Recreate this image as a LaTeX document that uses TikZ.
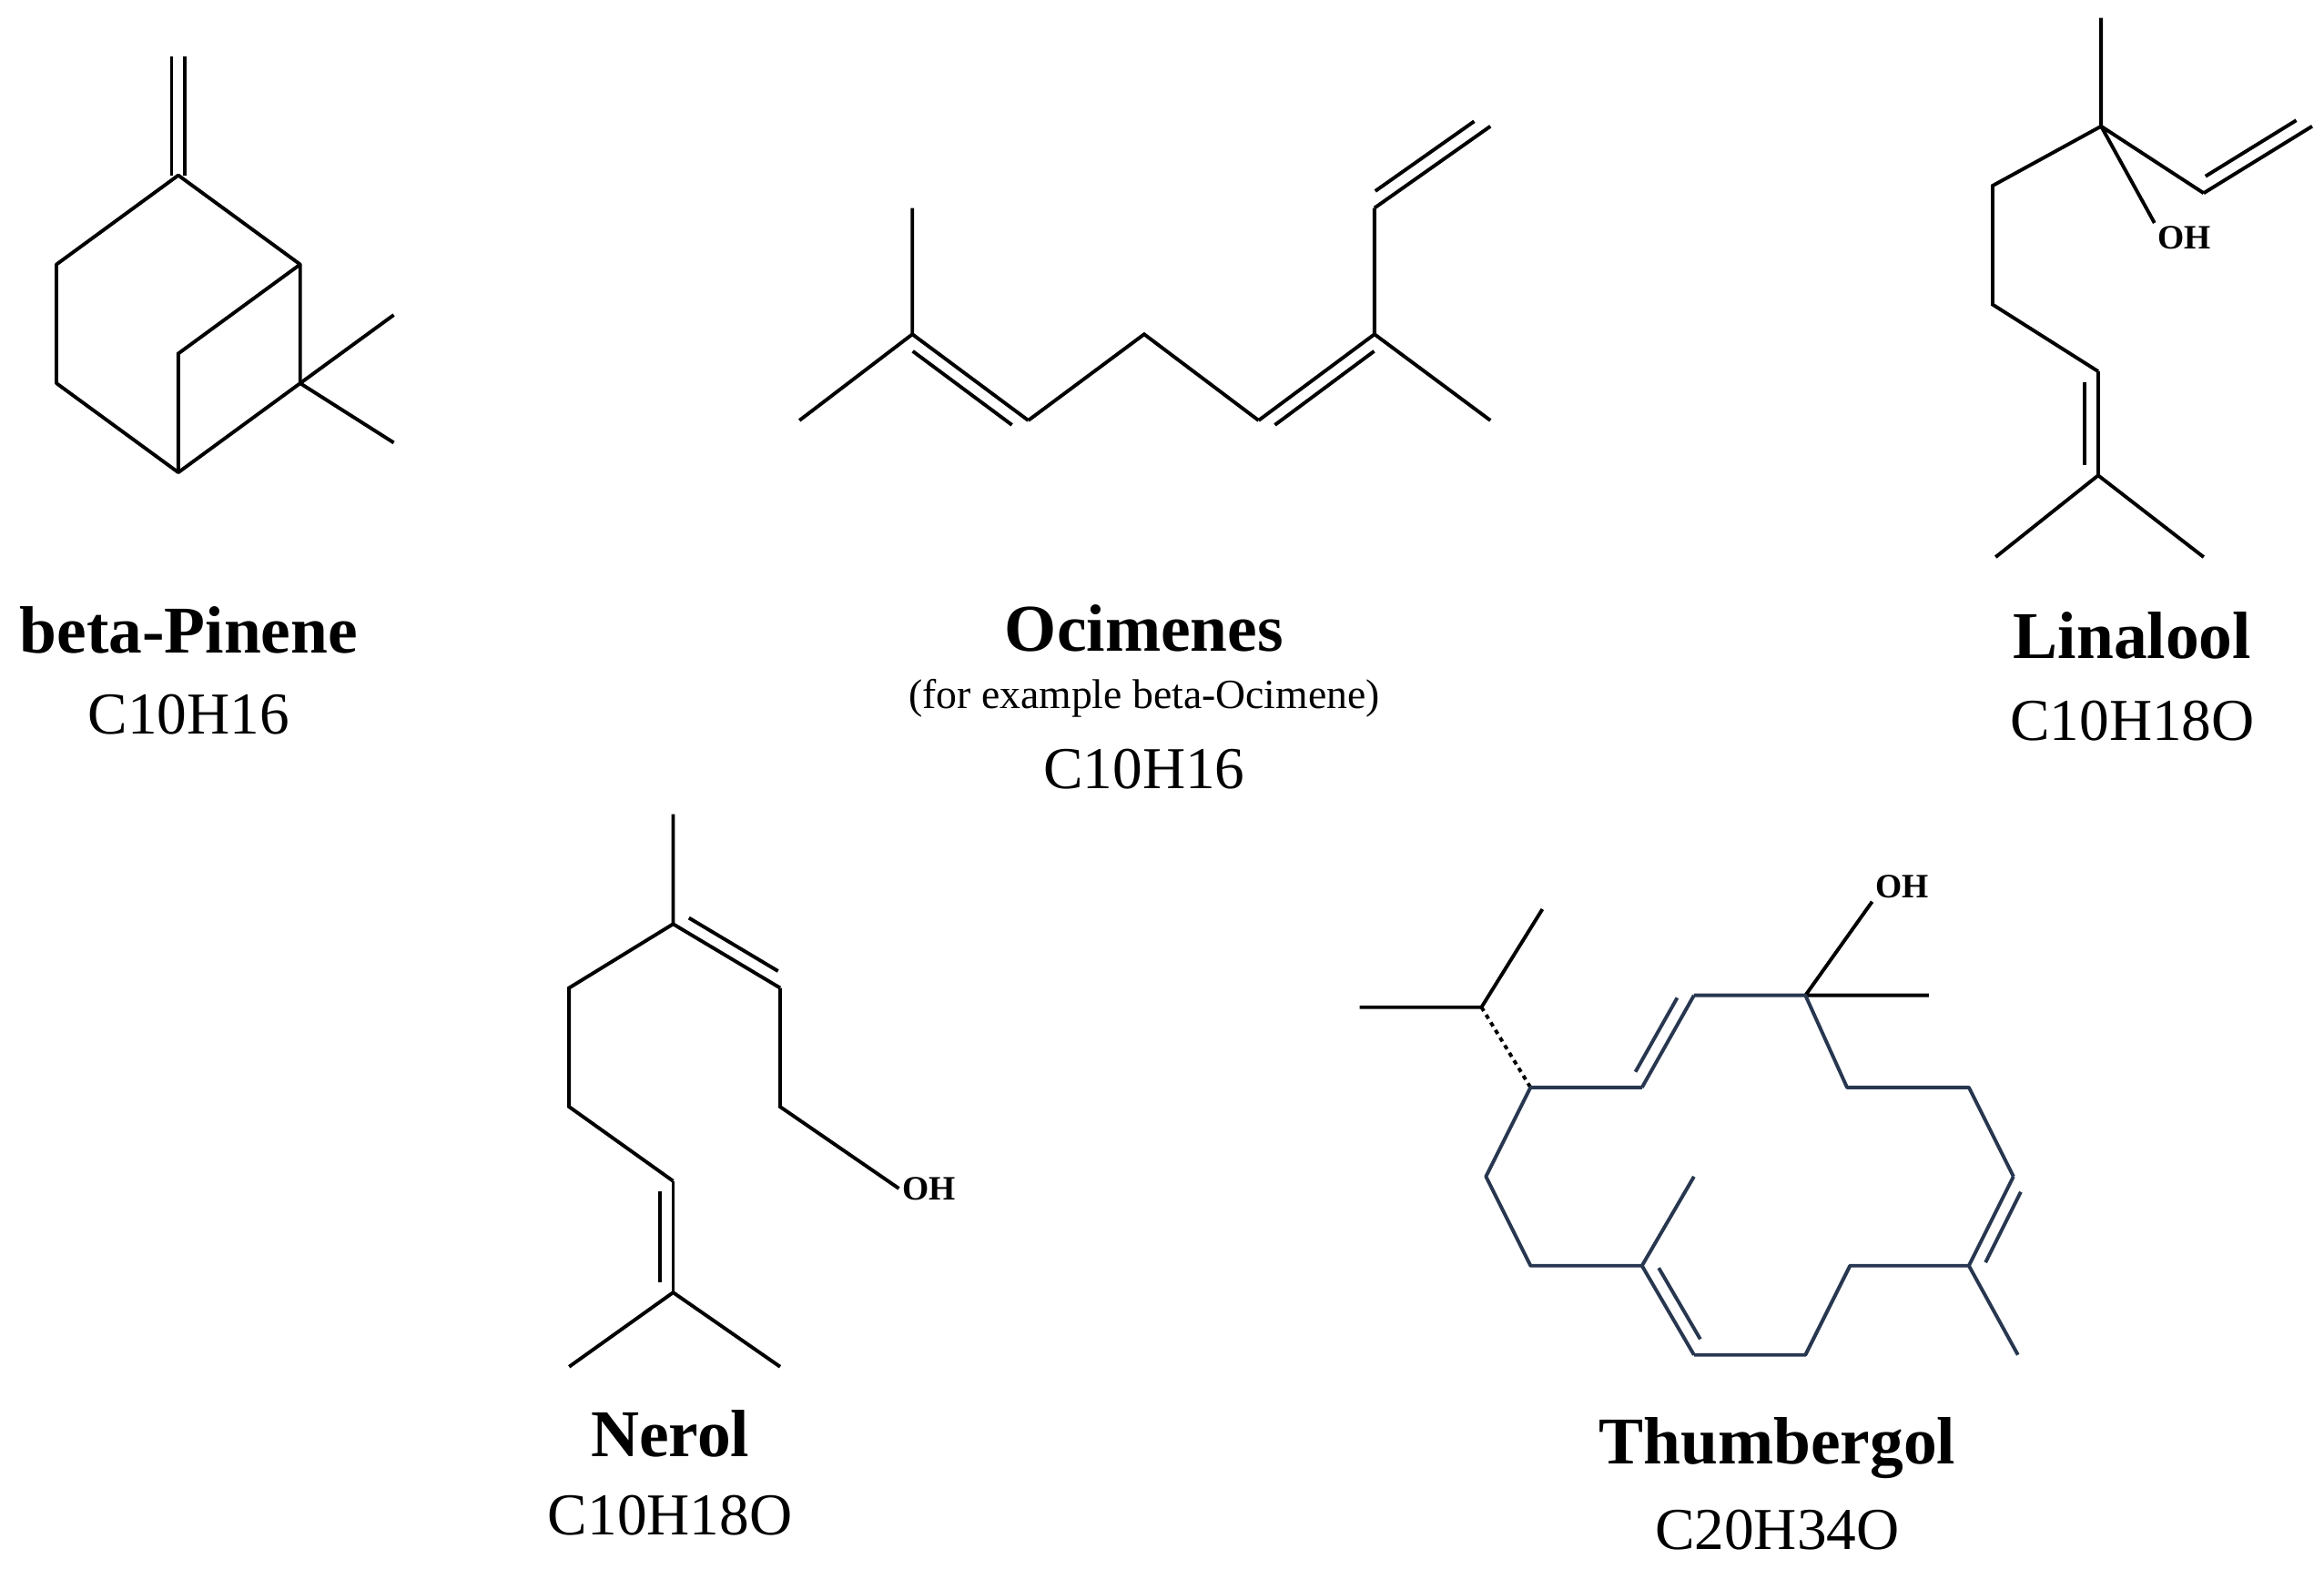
\documentclass[tikz,border=0pt]{standalone}
\usepackage{fontspec}
\setmainfont{Liberation Serif}
\usetikzlibrary{calc}
\newcommand\db[3]{\draw (#1)--(#2); \draw[shorten >=7pt,shorten <=7pt] ($(#1)!9pt!#3:(#2)$) -- ($(#2)!9pt!-#3:(#1)$);}
\begin{document}
\begin{tikzpicture}[x=1pt,y=-1pt,line width=2.4pt,
  nm/.style={font=\fontsize{45}{48}\selectfont\bfseries},
  fm/.style={font=\fontsize{40}{44}\selectfont},
  sm/.style={font=\fontsize{28}{30}\selectfont},
  oh/.style={font=\fontsize{23}{26}\selectfont\bfseries,inner sep=1pt}]
\useasboundingbox (0,0) rectangle (1564,1056);
% beta-pinene
\coordinate (p0) at (120,38); \coordinate (p2) at (120,118); \coordinate (p1) at (202,178);
\coordinate (p6) at (202,258); \coordinate (p5) at (120,318); \coordinate (p4) at (38,258);
\coordinate (p3) at (38,178); \coordinate (p7) at (120,238);
\coordinate (pm1) at (265,212); \coordinate (pm2) at (265,298);
\draw ([xshift=-4.5pt]p0)--([xshift=-4.5pt]p2) ([xshift=4.5pt]p0)--([xshift=4.5pt]p2);
\draw[line join=round] (p2)--(p1)--(p6)--(p5)--(p4)--(p3)--cycle;
\draw (p5)--(p7)--(p1) (p6)--(pm1) (p6)--(pm2);
\node[nm] (n1) at (127,424) {beta-Pinene};
\node[fm] (f1) at (127,481) {C10H16};
% ocimene
\coordinate (o1) at (538,283); \coordinate (o2) at (614,225); \coordinate (o2m) at (614,140);
\coordinate (o3) at (692,283); \coordinate (o4) at (770,225); \coordinate (o5) at (847,283);
\coordinate (o6) at (925,225); \coordinate (o6m) at (1003,283); \coordinate (o7) at (925,140);
\coordinate (o8) at (1003,85);
\draw (o1)--(o2)--(o2m) (o3)--(o4)--(o5) (o6)--(o6m) (o6)--(o7);
\db{o2}{o3}{-90} \db{o5}{o6}{-90} \db{o7}{o8}{90}
\node[nm] (n2) at (770,423) {Ocimenes};
\node[sm] (s2) at (770,470) {(for example beta-Ocimene)};
\node[fm] (f2) at (770,518) {C10H16};
% linalool
\coordinate (l0) at (1414,12); \coordinate (l1) at (1414,85); \coordinate (l2) at (1341,125);
\coordinate (l3) at (1341,205); \coordinate (l4) at (1412,250); \coordinate (l5) at (1412,320);
\coordinate (l6) at (1343,375); \coordinate (l7) at (1483,375);
\coordinate (l8) at (1483,130); \coordinate (l9) at (1556,85);
\node[oh] (loh) at (1470,160) {OH};
\draw (l0)--(l1)--(l2)--(l3)--(l4) (l5)--(l6) (l5)--(l7) (l1)--(l8) (l1)--(loh.north west);
\db{l4}{l5}{-90} \db{l8}{l9}{90}
\node[nm] (n3) at (1435,428) {Linalool};
\node[fm] (f3) at (1435,485) {C10H18O};
% nerol
\coordinate (e0) at (453,548); \coordinate (e1) at (453,622); \coordinate (e2) at (383,665);
\coordinate (e3) at (383,745); \coordinate (e4) at (453,795); \coordinate (e5) at (453,870);
\coordinate (e6) at (383,920); \coordinate (e7) at (525,920);
\coordinate (e8) at (525,665); \coordinate (e9) at (525,745);
\node[oh] (eoh) at (625,800) {OH};
\draw (e0)--(e1)--(e2)--(e3)--(e4) (e5)--(e6) (e5)--(e7) (e8)--(e9)--(eoh.west);
\db{e1}{e8}{90} \db{e4}{e5}{-90}
\node[nm] (n4) at (451,965) {Nerol};
\node[fm] (f4) at (451,1020) {C10H18O};
% thumbergol
\coordinate (t0) at (915,678); \coordinate (t1) at (997,678); \coordinate (t2) at (1038,612);
\coordinate (r1) at (1030,732); \coordinate (r2) at (1105,732); \coordinate (r3) at (1140,670);
\coordinate (r4) at (1215,670); \coordinate (r5) at (1243,732); \coordinate (r6) at (1325,732);
\coordinate (r7) at (1355,792); \coordinate (r8) at (1325,852); \coordinate (r9) at (1245,852);
\coordinate (r10) at (1215,912); \coordinate (r11) at (1140,912); \coordinate (r12) at (1105,852);
\coordinate (r13) at (1030,852); \coordinate (r14) at (1000,792);
\coordinate (m1) at (1358,912); \coordinate (m2) at (1140,792); \coordinate (m3) at (1298,670);
\node[oh] (toh) at (1280,597) {OH};
\draw (t0)--(t1)--(t2) (r4)--(toh.south west) (r4)--(m3);
\draw[dash pattern=on 3pt off 3pt] (t1)--(r1);
\begin{scope}[draw={rgb,255:red,40;green,55;blue,80}]
\draw[line join=round] (r3)--(r4)--(r5)--(r6)--(r7) (r8)--(r9)--(r10)--(r11) (r12)--(r13)--(r14)--(r1)--(r2);
\db{r2}{r3}{90} \db{r7}{r8}{90} \db{r12}{r11}{90}
\draw (r8)--(m1) (r12)--(m2);
\end{scope}
\node[nm] (n5) at (1196,975) {Thumbergol};
\node[fm] (f5) at (1196,1030) {C20H34O};
\end{tikzpicture}
\end{document}
